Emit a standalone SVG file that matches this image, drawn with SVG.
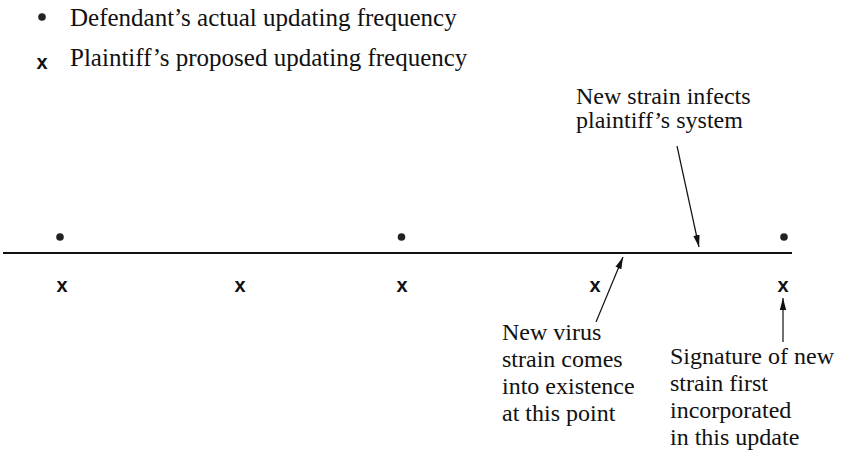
<svg xmlns="http://www.w3.org/2000/svg" width="841" height="451" viewBox="0 0 841 451">
<defs>
<marker id="ah" viewBox="0 0 12 8" refX="12" refY="4" markerWidth="12" markerHeight="8" markerUnits="userSpaceOnUse" orient="auto">
<path d="M0,0.8 L12,4 L0,7.2 Z" fill="#111"/>
</marker>
<style>
.t{font-family:"Liberation Serif","Times New Roman",serif;font-size:24px;fill:#111}
.lg{font-size:25px}
.x{font-family:"Liberation Sans",Arial,sans-serif;font-weight:bold;font-size:20px;fill:#111;text-anchor:middle}
.dot{fill:#222}
.ln{stroke:#111;stroke-width:1.8;fill:none}
.ar{stroke:#111;stroke-width:1.2;fill:none;marker-end:url(#ah)}
</style>
</defs>
<rect width="841" height="451" fill="#fff"/>
<g id="legend">
<circle class="dot" cx="42" cy="17" r="3.8"/>
<text class="t lg" x="70" y="26">Defendant’s actual updating frequency</text>
<text class="x" x="42" y="69">x</text>
<text class="t lg" x="70" y="66">Plaintiff’s proposed updating frequency</text>
</g>
<g id="timeline">
<line class="ln" x1="3" y1="253" x2="792" y2="253"/>
</g>
<g id="defendant-updates">
<circle class="dot" cx="60" cy="237" r="3.8"/>
<circle class="dot" cx="401.5" cy="237" r="3.8"/>
<circle class="dot" cx="784" cy="237" r="3.8"/>
</g>
<g id="plaintiff-updates">
<text class="x" x="62" y="292">x</text>
<text class="x" x="240" y="292">x</text>
<text class="x" x="402" y="292">x</text>
<text class="x" x="595" y="292">x</text>
<text class="x" x="783" y="292">x</text>
</g>
<g id="label-infects">
<text class="t" x="576" y="104">New strain infects</text>
<text class="t" x="576" y="128">plaintiff’s system</text>
</g>
<g id="label-virus">
<text class="t" x="502" y="340">New virus</text>
<text class="t" x="502" y="367">strain comes</text>
<text class="t" x="502" y="394">into existence</text>
<text class="t" x="502" y="421">at this point</text>
</g>
<g id="label-signature">
<text class="t" x="670" y="364">Signature of new</text>
<text class="t" x="670" y="391">strain first</text>
<text class="t" x="670" y="418">incorporated</text>
<text class="t" x="670" y="445">in this update</text>
</g>
<g id="connectors">
<line class="ar" x1="677" y1="146" x2="699" y2="247"/>
<line class="ar" x1="596" y1="322" x2="623" y2="257"/>
<line class="ar" x1="783" y1="342" x2="783" y2="298"/>
</g>
</svg>
